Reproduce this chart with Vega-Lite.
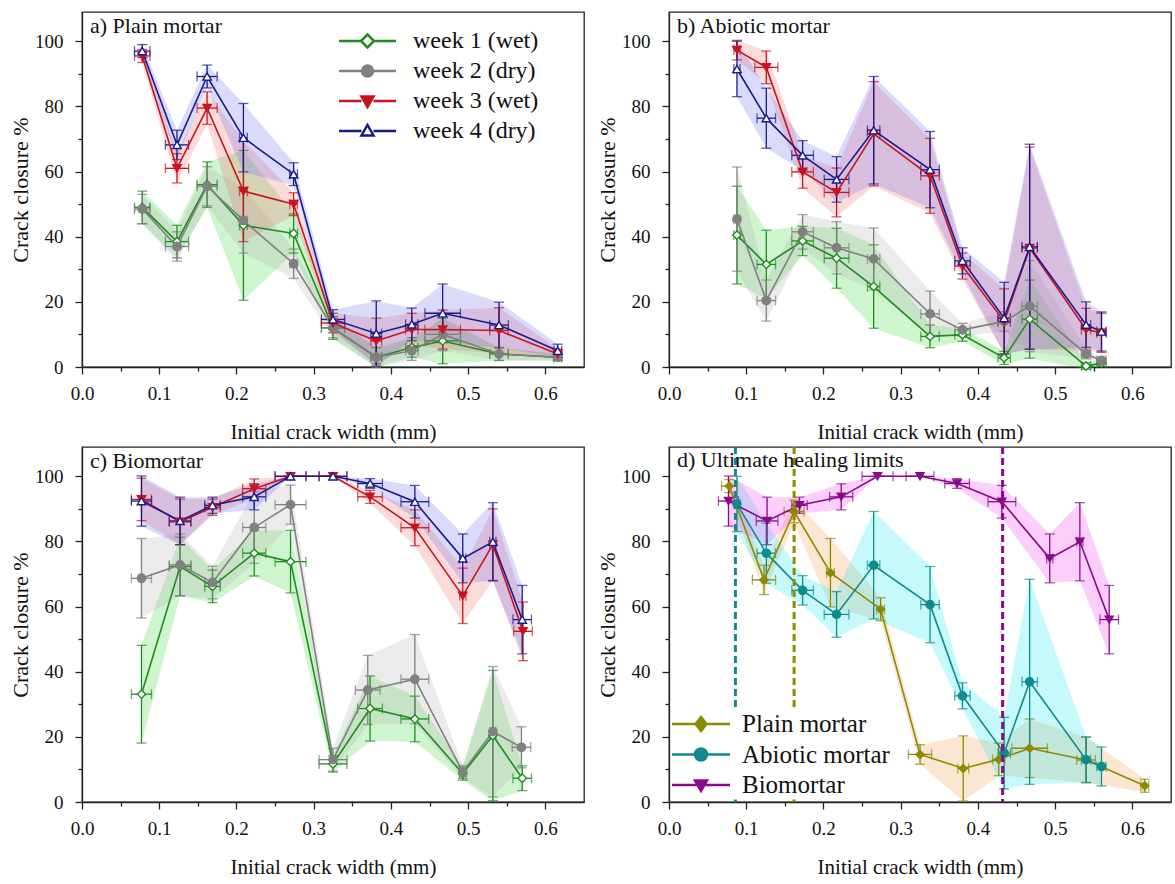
{
"$schema":"https://vega.github.io/schema/vega-lite/v6.json",
"padding":{"left":8,"top":11,"right":0,"bottom":0},
"background":"white",
"config":{
 "font":"Liberation Serif",
 "view":{"stroke":"#222","strokeWidth":1.3},
 "axis":{"labelFont":"Liberation Serif","titleFont":"Liberation Serif","labelFontSize":19,"titleFontSize":21,"titleFontWeight":"normal","labelColor":"#111","titleColor":"#111","domainColor":"#222","tickColor":"#222","domainWidth":1.3,"tickWidth":1.3,"grid":false},
 "axisY":{"titleFontSize":22},
 "title":{"font":"Liberation Serif","fontSize":22,"fontWeight":"normal","color":"#111","anchor":"start","frame":"group","offset":-26,"dx":8,"baseline":"alphabetic"},
 "legend":{"labelFont":"Liberation Serif","labelFontSize":24,"labelColor":"#111","padding":0,"labelLimit":400}
},
"datasets":{
"limits":[
 {"s":"Abiotic mortar","x":0.086},
 {"s":"Plain mortar","x":0.162},
 {"s":"Biomortar","x":0.432}
],
"main":[
{"p":"a","s":"week 1 (wet)","x":0.078,"xe":0.010,"y":49,"ye":5},
{"p":"a","s":"week 1 (wet)","x":0.123,"xe":0.015,"y":38.5,"ye":5},
{"p":"a","s":"week 1 (wet)","x":0.162,"xe":0.013,"y":56,"ye":7},
{"p":"a","s":"week 1 (wet)","x":0.209,"xe":0.005,"y":43.5,"ye":23},
{"p":"a","s":"week 1 (wet)","x":0.274,"xe":0.005,"y":41,"ye":6},
{"p":"a","s":"week 1 (wet)","x":0.325,"xe":0.015,"y":12,"ye":3.5},
{"p":"a","s":"week 1 (wet)","x":0.381,"xe":0.007,"y":3,"ye":3},
{"p":"a","s":"week 1 (wet)","x":0.427,"xe":0.008,"y":6,"ye":3},
{"p":"a","s":"week 1 (wet)","x":0.467,"xe":0.023,"y":8,"ye":7},
{"p":"a","s":"week 1 (wet)","x":0.540,"xe":0.012,"y":4,"ye":2},
{"p":"a","s":"week 1 (wet)","x":0.616,"xe":0.005,"y":3,"ye":1},
{"p":"a","s":"week 2 (dry)","x":0.078,"xe":0.010,"y":48.5,"ye":4.5},
{"p":"a","s":"week 2 (dry)","x":0.123,"xe":0.015,"y":37,"ye":4.5},
{"p":"a","s":"week 2 (dry)","x":0.162,"xe":0.013,"y":55.5,"ye":6},
{"p":"a","s":"week 2 (dry)","x":0.209,"xe":0.005,"y":45,"ye":10},
{"p":"a","s":"week 2 (dry)","x":0.274,"xe":0.005,"y":31.7,"ye":4.5},
{"p":"a","s":"week 2 (dry)","x":0.325,"xe":0.015,"y":12,"ye":3},
{"p":"a","s":"week 2 (dry)","x":0.381,"xe":0.007,"y":3,"ye":3},
{"p":"a","s":"week 2 (dry)","x":0.427,"xe":0.008,"y":5,"ye":3},
{"p":"a","s":"week 2 (dry)","x":0.467,"xe":0.023,"y":10,"ye":5},
{"p":"a","s":"week 2 (dry)","x":0.540,"xe":0.012,"y":4,"ye":2},
{"p":"a","s":"week 2 (dry)","x":0.616,"xe":0.005,"y":3,"ye":1},
{"p":"a","s":"week 3 (wet)","x":0.078,"xe":0.010,"y":95.5,"ye":2},
{"p":"a","s":"week 3 (wet)","x":0.123,"xe":0.015,"y":61,"ye":4.5},
{"p":"a","s":"week 3 (wet)","x":0.162,"xe":0.013,"y":79.5,"ye":5},
{"p":"a","s":"week 3 (wet)","x":0.209,"xe":0.005,"y":54,"ye":15.5},
{"p":"a","s":"week 3 (wet)","x":0.274,"xe":0.005,"y":50,"ye":3.5},
{"p":"a","s":"week 3 (wet)","x":0.325,"xe":0.015,"y":13.5,"ye":3},
{"p":"a","s":"week 3 (wet)","x":0.381,"xe":0.007,"y":8,"ye":7},
{"p":"a","s":"week 3 (wet)","x":0.427,"xe":0.008,"y":11.5,"ye":5},
{"p":"a","s":"week 3 (wet)","x":0.467,"xe":0.023,"y":11.5,"ye":6},
{"p":"a","s":"week 3 (wet)","x":0.540,"xe":0.012,"y":11.2,"ye":7},
{"p":"a","s":"week 3 (wet)","x":0.616,"xe":0.005,"y":4,"ye":1.5},
{"p":"a","s":"week 4 (dry)","x":0.078,"xe":0.010,"y":97,"ye":2},
{"p":"a","s":"week 4 (dry)","x":0.123,"xe":0.015,"y":68.2,"ye":4.5},
{"p":"a","s":"week 4 (dry)","x":0.162,"xe":0.013,"y":89.2,"ye":3.5},
{"p":"a","s":"week 4 (dry)","x":0.209,"xe":0.005,"y":70.4,"ye":10.5},
{"p":"a","s":"week 4 (dry)","x":0.274,"xe":0.005,"y":59.2,"ye":3.5},
{"p":"a","s":"week 4 (dry)","x":0.325,"xe":0.015,"y":14.6,"ye":3},
{"p":"a","s":"week 4 (dry)","x":0.381,"xe":0.007,"y":10.3,"ye":10},
{"p":"a","s":"week 4 (dry)","x":0.427,"xe":0.008,"y":13.1,"ye":5},
{"p":"a","s":"week 4 (dry)","x":0.467,"xe":0.023,"y":16.5,"ye":9},
{"p":"a","s":"week 4 (dry)","x":0.540,"xe":0.012,"y":12.9,"ye":7},
{"p":"a","s":"week 4 (dry)","x":0.616,"xe":0.005,"y":5,"ye":2},
{"p":"b","s":"week 1 (wet)","x":0.088,"xe":0.004,"y":40.5,"ye":15},
{"p":"b","s":"week 1 (wet)","x":0.126,"xe":0.012,"y":31.5,"ye":10.5},
{"p":"b","s":"week 1 (wet)","x":0.173,"xe":0.014,"y":38.7,"ye":4.5},
{"p":"b","s":"week 1 (wet)","x":0.217,"xe":0.016,"y":33.4,"ye":9.2},
{"p":"b","s":"week 1 (wet)","x":0.265,"xe":0.008,"y":24.7,"ye":12.8},
{"p":"b","s":"week 1 (wet)","x":0.338,"xe":0.012,"y":9.4,"ye":3.5},
{"p":"b","s":"week 1 (wet)","x":0.380,"xe":0.010,"y":9.9,"ye":2},
{"p":"b","s":"week 1 (wet)","x":0.434,"xe":0.008,"y":2.8,"ye":2},
{"p":"b","s":"week 1 (wet)","x":0.467,"xe":0.010,"y":14.7,"ye":12},
{"p":"b","s":"week 1 (wet)","x":0.540,"xe":0.006,"y":0.3,"ye":1},
{"p":"b","s":"week 1 (wet)","x":0.560,"xe":0.006,"y":1.2,"ye":1},
{"p":"b","s":"week 2 (dry)","x":0.088,"xe":0.004,"y":45.4,"ye":16},
{"p":"b","s":"week 2 (dry)","x":0.126,"xe":0.012,"y":20.4,"ye":6.3},
{"p":"b","s":"week 2 (dry)","x":0.173,"xe":0.014,"y":41.5,"ye":5.3},
{"p":"b","s":"week 2 (dry)","x":0.217,"xe":0.016,"y":36.6,"ye":8},
{"p":"b","s":"week 2 (dry)","x":0.265,"xe":0.008,"y":33.2,"ye":9.5},
{"p":"b","s":"week 2 (dry)","x":0.338,"xe":0.012,"y":16.3,"ye":7},
{"p":"b","s":"week 2 (dry)","x":0.380,"xe":0.010,"y":11.4,"ye":2},
{"p":"b","s":"week 2 (dry)","x":0.434,"xe":0.008,"y":14,"ye":3},
{"p":"b","s":"week 2 (dry)","x":0.467,"xe":0.010,"y":18.7,"ye":14},
{"p":"b","s":"week 2 (dry)","x":0.540,"xe":0.006,"y":4,"ye":1.5},
{"p":"b","s":"week 2 (dry)","x":0.560,"xe":0.006,"y":2,"ye":1},
{"p":"b","s":"week 3 (wet)","x":0.088,"xe":0.004,"y":97.3,"ye":3},
{"p":"b","s":"week 3 (wet)","x":0.126,"xe":0.015,"y":92,"ye":5},
{"p":"b","s":"week 3 (wet)","x":0.173,"xe":0.014,"y":59.9,"ye":5},
{"p":"b","s":"week 3 (wet)","x":0.217,"xe":0.016,"y":53.6,"ye":7.5},
{"p":"b","s":"week 3 (wet)","x":0.265,"xe":0.008,"y":71.6,"ye":16},
{"p":"b","s":"week 3 (wet)","x":0.338,"xe":0.012,"y":58.7,"ye":11.5},
{"p":"b","s":"week 3 (wet)","x":0.380,"xe":0.010,"y":31,"ye":4},
{"p":"b","s":"week 3 (wet)","x":0.434,"xe":0.008,"y":14,"ye":10},
{"p":"b","s":"week 3 (wet)","x":0.467,"xe":0.010,"y":36.5,"ye":31},
{"p":"b","s":"week 3 (wet)","x":0.540,"xe":0.006,"y":11.5,"ye":6.5},
{"p":"b","s":"week 3 (wet)","x":0.560,"xe":0.006,"y":10.5,"ye":6},
{"p":"b","s":"week 4 (dry)","x":0.088,"xe":0.004,"y":91.5,"ye":8.5},
{"p":"b","s":"week 4 (dry)","x":0.126,"xe":0.012,"y":76.4,"ye":9.2},
{"p":"b","s":"week 4 (dry)","x":0.173,"xe":0.014,"y":65,"ye":4.5},
{"p":"b","s":"week 4 (dry)","x":0.217,"xe":0.016,"y":57.6,"ye":7},
{"p":"b","s":"week 4 (dry)","x":0.265,"xe":0.008,"y":72.7,"ye":16.5},
{"p":"b","s":"week 4 (dry)","x":0.338,"xe":0.012,"y":60.6,"ye":11.7},
{"p":"b","s":"week 4 (dry)","x":0.380,"xe":0.010,"y":32.6,"ye":4},
{"p":"b","s":"week 4 (dry)","x":0.434,"xe":0.008,"y":15,"ye":11},
{"p":"b","s":"week 4 (dry)","x":0.467,"xe":0.010,"y":36.9,"ye":31.5},
{"p":"b","s":"week 4 (dry)","x":0.540,"xe":0.006,"y":13,"ye":7},
{"p":"b","s":"week 4 (dry)","x":0.560,"xe":0.006,"y":10.9,"ye":6},
{"p":"c","s":"week 1 (wet)","x":0.077,"xe":0.013,"y":33.1,"ye":15},
{"p":"c","s":"week 1 (wet)","x":0.127,"xe":0.014,"y":72.3,"ye":9},
{"p":"c","s":"week 1 (wet)","x":0.169,"xe":0.010,"y":66.2,"ye":5},
{"p":"c","s":"week 1 (wet)","x":0.223,"xe":0.015,"y":76.4,"ye":7},
{"p":"c","s":"week 1 (wet)","x":0.270,"xe":0.020,"y":73.8,"ye":9.6},
{"p":"c","s":"week 1 (wet)","x":0.325,"xe":0.018,"y":11.7,"ye":2.5},
{"p":"c","s":"week 1 (wet)","x":0.373,"xe":0.016,"y":28.7,"ye":10},
{"p":"c","s":"week 1 (wet)","x":0.431,"xe":0.018,"y":25.5,"ye":7},
{"p":"c","s":"week 1 (wet)","x":0.493,"xe":0.004,"y":8.7,"ye":2},
{"p":"c","s":"week 1 (wet)","x":0.532,"xe":0.004,"y":20.4,"ye":20},
{"p":"c","s":"week 1 (wet)","x":0.570,"xe":0.012,"y":7.3,"ye":3.8},
{"p":"c","s":"week 2 (dry)","x":0.077,"xe":0.013,"y":68.7,"ye":12.2},
{"p":"c","s":"week 2 (dry)","x":0.127,"xe":0.014,"y":72.8,"ye":9.5},
{"p":"c","s":"week 2 (dry)","x":0.169,"xe":0.010,"y":67.4,"ye":5},
{"p":"c","s":"week 2 (dry)","x":0.223,"xe":0.015,"y":84.3,"ye":11},
{"p":"c","s":"week 2 (dry)","x":0.270,"xe":0.020,"y":91.3,"ye":6},
{"p":"c","s":"week 2 (dry)","x":0.325,"xe":0.018,"y":13,"ye":3.5},
{"p":"c","s":"week 2 (dry)","x":0.370,"xe":0.016,"y":34.4,"ye":10.6},
{"p":"c","s":"week 2 (dry)","x":0.431,"xe":0.018,"y":37.7,"ye":13.7},
{"p":"c","s":"week 2 (dry)","x":0.493,"xe":0.004,"y":9.2,"ye":2},
{"p":"c","s":"week 2 (dry)","x":0.532,"xe":0.004,"y":21.6,"ye":20},
{"p":"c","s":"week 2 (dry)","x":0.569,"xe":0.012,"y":16.8,"ye":6.3},
{"p":"c","s":"week 3 (wet)","x":0.077,"xe":0.013,"y":92.9,"ye":6.5},
{"p":"c","s":"week 3 (wet)","x":0.127,"xe":0.014,"y":86,"ye":7},
{"p":"c","s":"week 3 (wet)","x":0.169,"xe":0.010,"y":90.5,"ye":2.5},
{"p":"c","s":"week 3 (wet)","x":0.223,"xe":0.015,"y":96.2,"ye":3},
{"p":"c","s":"week 3 (wet)","x":0.270,"xe":0.020,"y":100,"ye":0},
{"p":"c","s":"week 3 (wet)","x":0.325,"xe":0.018,"y":100,"ye":0},
{"p":"c","s":"week 3 (wet)","x":0.373,"xe":0.016,"y":93.7,"ye":2},
{"p":"c","s":"week 3 (wet)","x":0.431,"xe":0.018,"y":84.2,"ye":5.5},
{"p":"c","s":"week 3 (wet)","x":0.493,"xe":0.004,"y":63.3,"ye":8.5},
{"p":"c","s":"week 3 (wet)","x":0.532,"xe":0.004,"y":79,"ye":11},
{"p":"c","s":"week 3 (wet)","x":0.571,"xe":0.012,"y":52.4,"ye":9},
{"p":"c","s":"week 4 (dry)","x":0.077,"xe":0.013,"y":92.4,"ye":7.7},
{"p":"c","s":"week 4 (dry)","x":0.127,"xe":0.014,"y":86.3,"ye":7.3},
{"p":"c","s":"week 4 (dry)","x":0.169,"xe":0.010,"y":91.1,"ye":2.5},
{"p":"c","s":"week 4 (dry)","x":0.223,"xe":0.015,"y":93.7,"ye":4},
{"p":"c","s":"week 4 (dry)","x":0.270,"xe":0.020,"y":100,"ye":0},
{"p":"c","s":"week 4 (dry)","x":0.325,"xe":0.018,"y":100,"ye":0},
{"p":"c","s":"week 4 (dry)","x":0.373,"xe":0.016,"y":97.8,"ye":1.5},
{"p":"c","s":"week 4 (dry)","x":0.431,"xe":0.018,"y":92.2,"ye":5},
{"p":"c","s":"week 4 (dry)","x":0.493,"xe":0.004,"y":74.8,"ye":7.5},
{"p":"c","s":"week 4 (dry)","x":0.532,"xe":0.004,"y":79.9,"ye":12},
{"p":"c","s":"week 4 (dry)","x":0.570,"xe":0.012,"y":56,"ye":10.5},
{"p":"d","s":"Plain mortar","x":0.078,"xe":0.010,"y":97,"ye":2},
{"p":"d","s":"Plain mortar","x":0.123,"xe":0.015,"y":68.2,"ye":4.5},
{"p":"d","s":"Plain mortar","x":0.162,"xe":0.013,"y":89.2,"ye":3.5},
{"p":"d","s":"Plain mortar","x":0.209,"xe":0.005,"y":70.4,"ye":10.5},
{"p":"d","s":"Plain mortar","x":0.274,"xe":0.005,"y":59.2,"ye":3.5},
{"p":"d","s":"Plain mortar","x":0.325,"xe":0.015,"y":14.6,"ye":3},
{"p":"d","s":"Plain mortar","x":0.381,"xe":0.007,"y":10.3,"ye":10},
{"p":"d","s":"Plain mortar","x":0.427,"xe":0.008,"y":13.1,"ye":5},
{"p":"d","s":"Plain mortar","x":0.467,"xe":0.023,"y":16.5,"ye":9},
{"p":"d","s":"Plain mortar","x":0.540,"xe":0.012,"y":12.9,"ye":7},
{"p":"d","s":"Plain mortar","x":0.616,"xe":0.005,"y":5,"ye":2},
{"p":"d","s":"Abiotic mortar","x":0.088,"xe":0.004,"y":91.5,"ye":8.5},
{"p":"d","s":"Abiotic mortar","x":0.126,"xe":0.012,"y":76.4,"ye":9.2},
{"p":"d","s":"Abiotic mortar","x":0.173,"xe":0.014,"y":65,"ye":4.5},
{"p":"d","s":"Abiotic mortar","x":0.217,"xe":0.016,"y":57.6,"ye":7},
{"p":"d","s":"Abiotic mortar","x":0.265,"xe":0.008,"y":72.7,"ye":16.5},
{"p":"d","s":"Abiotic mortar","x":0.338,"xe":0.012,"y":60.6,"ye":11.7},
{"p":"d","s":"Abiotic mortar","x":0.380,"xe":0.010,"y":32.6,"ye":4},
{"p":"d","s":"Abiotic mortar","x":0.434,"xe":0.008,"y":15,"ye":11},
{"p":"d","s":"Abiotic mortar","x":0.467,"xe":0.010,"y":36.9,"ye":31.5},
{"p":"d","s":"Abiotic mortar","x":0.540,"xe":0.006,"y":13,"ye":7},
{"p":"d","s":"Abiotic mortar","x":0.560,"xe":0.006,"y":10.9,"ye":6},
{"p":"d","s":"Biomortar","x":0.077,"xe":0.013,"y":92.4,"ye":7.7},
{"p":"d","s":"Biomortar","x":0.127,"xe":0.014,"y":86.3,"ye":7.3},
{"p":"d","s":"Biomortar","x":0.169,"xe":0.010,"y":91.1,"ye":2.5},
{"p":"d","s":"Biomortar","x":0.223,"xe":0.015,"y":93.7,"ye":4},
{"p":"d","s":"Biomortar","x":0.270,"xe":0.020,"y":100,"ye":0},
{"p":"d","s":"Biomortar","x":0.325,"xe":0.018,"y":100,"ye":0},
{"p":"d","s":"Biomortar","x":0.373,"xe":0.016,"y":97.8,"ye":1.5},
{"p":"d","s":"Biomortar","x":0.431,"xe":0.018,"y":92.2,"ye":5},
{"p":"d","s":"Biomortar","x":0.493,"xe":0.004,"y":74.8,"ye":7.5},
{"p":"d","s":"Biomortar","x":0.532,"xe":0.004,"y":79.9,"ye":12},
{"p":"d","s":"Biomortar","x":0.570,"xe":0.012,"y":56,"ye":10.5}
]},
"resolve":{"scale":{"color":"independent","shape":"independent","fill":"independent","stroke":"independent"},"legend":{"color":"independent","shape":"independent","fill":"independent","stroke":"independent"}},
"spacing":1,
"vconcat":[
{"hconcat":[
 {"width":502,"height":355,"title":{"text":"a) Plain mortar"},
  "data":{"name":"main"},"transform":[{"filter":"datum.p === 'a'"}],
  "encoding":{
   "x":{"field":"x","type":"quantitative","scale":{"domain":[0,0.65],"nice":false,"zero":false},"axis":{"title":"Initial crack width (mm)","values":[0,0.05,0.1,0.15,0.2,0.25,0.3,0.35,0.4,0.45,0.5,0.55,0.6],"labelExpr":"round(datum.value*100) % 10 == 0 ? format(datum.value, '.1f') : ''","tickSize":{"condition":{"test":"round(datum.value*100) % 10 != 0","value":4},"value":7},"labelPadding":10,"titlePadding":18,"labelOverlap":false,"labelFlush":false}},
   "y":{"field":"y","type":"quantitative","scale":{"domain":[0,109],"nice":false},"axis":{"title":"Crack closure %","values":[0,10,20,30,40,50,60,70,80,90,100],"labelExpr":"datum.value % 20 == 0 ? datum.label : ''","tickSize":{"condition":{"test":"datum.value % 20 != 0","value":4},"value":7},"labelPadding":12,"titlePadding":2,"labelOverlap":false,"labelFlush":false}}
  },
  "layer":[
   {"mark":{"type":"errorband","opacity":0.25},"encoding":{"yError":{"field":"ye"},"color":{"field":"s","type":"nominal","scale":{"domain":["week 1 (wet)","week 2 (dry)","week 3 (wet)","week 4 (dry)"],"range":["#3ad83a","#b0b0b0","#f06a6a","#6a6af0"]},"legend":null}}},
   {"mark":{"type":"errorbar","ticks":{"size":10},"thickness":1.3},"encoding":{"yError":{"field":"ye"},"color":{"field":"s","type":"nominal","scale":{"domain":["week 1 (wet)","week 2 (dry)","week 3 (wet)","week 4 (dry)"],"range":["#1f8c1f","#808080","#c8141e","#1a1a8c"]},"legend":null}}},
   {"mark":{"type":"errorbar","ticks":{"size":10},"thickness":1.3},"encoding":{"xError":{"field":"xe"},"color":{"field":"s","type":"nominal","scale":{"domain":["week 1 (wet)","week 2 (dry)","week 3 (wet)","week 4 (dry)"],"range":["#1f8c1f","#808080","#c8141e","#1a1a8c"]},"legend":null}}},
   {"mark":{"type":"line","strokeWidth":1.6},"encoding":{"color":{"field":"s","type":"nominal","scale":{"domain":["week 1 (wet)","week 2 (dry)","week 3 (wet)","week 4 (dry)"],"range":["#1f8c1f","#808080","#c8141e","#1a1a8c"]},"legend":null}}},
   {"mark":{"type":"point","filled":true,"size":70,"strokeWidth":1.4,"opacity":1},"encoding":{
     "shape":{"field":"s","type":"nominal","scale":{"domain":["week 1 (wet)","week 2 (dry)","week 3 (wet)","week 4 (dry)"],"range":["diamond","circle","triangle-down","triangle-up"]},"legend":null},
     "stroke":{"field":"s","type":"nominal","scale":{"domain":["week 1 (wet)","week 2 (dry)","week 3 (wet)","week 4 (dry)"],"range":["#1f8c1f","#808080","#c8141e","#1a1a8c"]},"legend":null},
     "fill":{"field":"s","type":"nominal","scale":{"domain":["week 1 (wet)","week 2 (dry)","week 3 (wet)","week 4 (dry)"],"range":["white","#808080","#c8141e","white"]},"legend":null}}},
   {"transform":[{"filter":"false"}],"mark":{"type":"point","filled":true,"size":100,"strokeWidth":2.5,"opacity":1},"encoding":{
     "shape":{"field":"s","type":"nominal","scale":{"domain":["week 1 (wet)","week 2 (dry)","week 3 (wet)","week 4 (dry)"],"range":["M-5.7,0H-1.3M1.3,0H5.7M0,-1.3L1.3,0L0,1.3L-1.3,0Z","M-5.7,0H-1.1M1.1,0H5.7M-1.1,0A1.1,1.1,0,1,0,1.1,0A1.1,1.1,0,1,0,-1.1,0Z","M-5.7,0H-1.2M1.2,0H5.7M-1.2,-0.9L1.2,-0.9L0,1.2Z","M-5.7,0H-1.2M1.2,0H5.7M-1.2,0.9L1.2,0.9L0,-1.2Z"]},"legend":{"orient":"none","legendX":273.5,"legendY":17,"title":null,"labelOffset":33.5,"rowPadding":6,"symbolSize":100,"symbolStrokeWidth":2.5,"labelFontSize":24}},
     "stroke":{"field":"s","type":"nominal","scale":{"domain":["week 1 (wet)","week 2 (dry)","week 3 (wet)","week 4 (dry)"],"range":["#1f8c1f","#808080","#c8141e","#1a1a8c"]},"legend":{"orient":"none","legendX":273.5,"legendY":17,"title":null,"labelOffset":33.5,"rowPadding":6,"symbolSize":100,"symbolStrokeWidth":2.5,"labelFontSize":24}},
     "fill":{"field":"s","type":"nominal","scale":{"domain":["week 1 (wet)","week 2 (dry)","week 3 (wet)","week 4 (dry)"],"range":["white","#808080","#c8141e","white"]},"legend":{"orient":"none","legendX":273.5,"legendY":17,"title":null,"labelOffset":33.5,"rowPadding":6,"symbolSize":100,"symbolStrokeWidth":2.5,"labelFontSize":24}}}}
  ],
  "resolve":{"scale":{"color":"independent","shape":"independent","fill":"independent","stroke":"independent"}}
 },
 {"width":502,"height":355,"title":{"text":"b) Abiotic mortar"},
  "data":{"name":"main"},"transform":[{"filter":"datum.p === 'b'"}],
  "encoding":{
   "x":{"field":"x","type":"quantitative","scale":{"domain":[0,0.65],"nice":false,"zero":false},"axis":{"title":"Initial crack width (mm)","values":[0,0.05,0.1,0.15,0.2,0.25,0.3,0.35,0.4,0.45,0.5,0.55,0.6],"labelExpr":"round(datum.value*100) % 10 == 0 ? format(datum.value, '.1f') : ''","tickSize":{"condition":{"test":"round(datum.value*100) % 10 != 0","value":4},"value":7},"labelPadding":10,"titlePadding":18,"labelOverlap":false,"labelFlush":false}},
   "y":{"field":"y","type":"quantitative","scale":{"domain":[0,109],"nice":false},"axis":{"title":"Crack closure %","values":[0,10,20,30,40,50,60,70,80,90,100],"labelExpr":"datum.value % 20 == 0 ? datum.label : ''","tickSize":{"condition":{"test":"datum.value % 20 != 0","value":4},"value":7},"labelPadding":12,"titlePadding":2,"labelOverlap":false,"labelFlush":false}}
  },
  "layer":[
   {"mark":{"type":"errorband","opacity":0.25},"encoding":{"yError":{"field":"ye"},"color":{"field":"s","type":"nominal","scale":{"domain":["week 1 (wet)","week 2 (dry)","week 3 (wet)","week 4 (dry)"],"range":["#3ad83a","#b0b0b0","#f06a6a","#6a6af0"]},"legend":null}}},
   {"mark":{"type":"errorbar","ticks":{"size":10},"thickness":1.3},"encoding":{"yError":{"field":"ye"},"color":{"field":"s","type":"nominal","scale":{"domain":["week 1 (wet)","week 2 (dry)","week 3 (wet)","week 4 (dry)"],"range":["#1f8c1f","#808080","#c8141e","#1a1a8c"]},"legend":null}}},
   {"mark":{"type":"errorbar","ticks":{"size":10},"thickness":1.3},"encoding":{"xError":{"field":"xe"},"color":{"field":"s","type":"nominal","scale":{"domain":["week 1 (wet)","week 2 (dry)","week 3 (wet)","week 4 (dry)"],"range":["#1f8c1f","#808080","#c8141e","#1a1a8c"]},"legend":null}}},
   {"mark":{"type":"line","strokeWidth":1.6},"encoding":{"color":{"field":"s","type":"nominal","scale":{"domain":["week 1 (wet)","week 2 (dry)","week 3 (wet)","week 4 (dry)"],"range":["#1f8c1f","#808080","#c8141e","#1a1a8c"]},"legend":null}}},
   {"mark":{"type":"point","filled":true,"size":70,"strokeWidth":1.4,"opacity":1},"encoding":{
     "shape":{"field":"s","type":"nominal","scale":{"domain":["week 1 (wet)","week 2 (dry)","week 3 (wet)","week 4 (dry)"],"range":["diamond","circle","triangle-down","triangle-up"]},"legend":null},
     "stroke":{"field":"s","type":"nominal","scale":{"domain":["week 1 (wet)","week 2 (dry)","week 3 (wet)","week 4 (dry)"],"range":["#1f8c1f","#808080","#c8141e","#1a1a8c"]},"legend":null},
     "fill":{"field":"s","type":"nominal","scale":{"domain":["week 1 (wet)","week 2 (dry)","week 3 (wet)","week 4 (dry)"],"range":["white","#808080","#c8141e","white"]},"legend":null}}}
  ],
  "resolve":{"scale":{"color":"independent","shape":"independent","fill":"independent","stroke":"independent"}}
 }
],"spacing":10,
"resolve":{"scale":{"color":"independent","shape":"independent","fill":"independent","stroke":"independent"},"legend":{"color":"independent","shape":"independent","fill":"independent","stroke":"independent"}}},
{"hconcat":[
 {"width":502,"height":355,"title":{"text":"c) Biomortar"},
  "data":{"name":"main"},"transform":[{"filter":"datum.p === 'c'"}],
  "encoding":{
   "x":{"field":"x","type":"quantitative","scale":{"domain":[0,0.65],"nice":false,"zero":false},"axis":{"title":"Initial crack width (mm)","values":[0,0.05,0.1,0.15,0.2,0.25,0.3,0.35,0.4,0.45,0.5,0.55,0.6],"labelExpr":"round(datum.value*100) % 10 == 0 ? format(datum.value, '.1f') : ''","tickSize":{"condition":{"test":"round(datum.value*100) % 10 != 0","value":4},"value":7},"labelPadding":10,"titlePadding":18,"labelOverlap":false,"labelFlush":false}},
   "y":{"field":"y","type":"quantitative","scale":{"domain":[0,109],"nice":false},"axis":{"title":"Crack closure %","values":[0,10,20,30,40,50,60,70,80,90,100],"labelExpr":"datum.value % 20 == 0 ? datum.label : ''","tickSize":{"condition":{"test":"datum.value % 20 != 0","value":4},"value":7},"labelPadding":12,"titlePadding":2,"labelOverlap":false,"labelFlush":false}}
  },
  "layer":[
   {"mark":{"type":"errorband","opacity":0.25},"encoding":{"yError":{"field":"ye"},"color":{"field":"s","type":"nominal","scale":{"domain":["week 1 (wet)","week 2 (dry)","week 3 (wet)","week 4 (dry)"],"range":["#3ad83a","#b0b0b0","#f06a6a","#6a6af0"]},"legend":null}}},
   {"mark":{"type":"errorbar","ticks":{"size":10},"thickness":1.3},"encoding":{"yError":{"field":"ye"},"color":{"field":"s","type":"nominal","scale":{"domain":["week 1 (wet)","week 2 (dry)","week 3 (wet)","week 4 (dry)"],"range":["#1f8c1f","#808080","#c8141e","#1a1a8c"]},"legend":null}}},
   {"mark":{"type":"errorbar","ticks":{"size":10},"thickness":1.3},"encoding":{"xError":{"field":"xe"},"color":{"field":"s","type":"nominal","scale":{"domain":["week 1 (wet)","week 2 (dry)","week 3 (wet)","week 4 (dry)"],"range":["#1f8c1f","#808080","#c8141e","#1a1a8c"]},"legend":null}}},
   {"mark":{"type":"line","strokeWidth":1.6},"encoding":{"color":{"field":"s","type":"nominal","scale":{"domain":["week 1 (wet)","week 2 (dry)","week 3 (wet)","week 4 (dry)"],"range":["#1f8c1f","#808080","#c8141e","#1a1a8c"]},"legend":null}}},
   {"mark":{"type":"point","filled":true,"size":70,"strokeWidth":1.4,"opacity":1},"encoding":{
     "shape":{"field":"s","type":"nominal","scale":{"domain":["week 1 (wet)","week 2 (dry)","week 3 (wet)","week 4 (dry)"],"range":["diamond","circle","triangle-down","triangle-up"]},"legend":null},
     "stroke":{"field":"s","type":"nominal","scale":{"domain":["week 1 (wet)","week 2 (dry)","week 3 (wet)","week 4 (dry)"],"range":["#1f8c1f","#808080","#c8141e","#1a1a8c"]},"legend":null},
     "fill":{"field":"s","type":"nominal","scale":{"domain":["week 1 (wet)","week 2 (dry)","week 3 (wet)","week 4 (dry)"],"range":["white","#808080","#c8141e","white"]},"legend":null}}}
  ],
  "resolve":{"scale":{"color":"independent","shape":"independent","fill":"independent","stroke":"independent"}}
 },
 {"width":502,"height":355,"title":{"text":"d) Ultimate healing limits"},
  "layer":[
   {"data":{"name":"main"},"transform":[{"filter":"datum.p === 'd'"}],
    "encoding":{
     "x":{"field":"x","type":"quantitative","scale":{"domain":[0,0.65],"nice":false,"zero":false},"axis":{"title":"Initial crack width (mm)","values":[0,0.05,0.1,0.15,0.2,0.25,0.3,0.35,0.4,0.45,0.5,0.55,0.6],"labelExpr":"round(datum.value*100) % 10 == 0 ? format(datum.value, '.1f') : ''","tickSize":{"condition":{"test":"round(datum.value*100) % 10 != 0","value":4},"value":7},"labelPadding":10,"titlePadding":18,"labelOverlap":false,"labelFlush":false}},
     "y":{"field":"y","type":"quantitative","scale":{"domain":[0,109],"nice":false},"axis":{"title":"Crack closure %","values":[0,10,20,30,40,50,60,70,80,90,100],"labelExpr":"datum.value % 20 == 0 ? datum.label : ''","tickSize":{"condition":{"test":"datum.value % 20 != 0","value":4},"value":7},"labelPadding":12,"titlePadding":2,"labelOverlap":false,"labelFlush":false}}
    },
    "layer":[
     {"mark":{"type":"errorband","opacity":0.28},"encoding":{"yError":{"field":"ye"},"color":{"field":"s","type":"nominal","scale":{"domain":["Plain mortar","Abiotic mortar","Biomortar"],"range":["#f5a05a","#2ee8f0","#f050f0"]},"legend":null}}},
     {"mark":{"type":"errorbar","ticks":{"size":10},"thickness":1.3},"encoding":{"yError":{"field":"ye"},"color":{"field":"s","type":"nominal","scale":{"domain":["Plain mortar","Abiotic mortar","Biomortar"],"range":["#8c8a00","#0f8b8d","#8b0a8b"]},"legend":null}}},
     {"mark":{"type":"errorbar","ticks":{"size":10},"thickness":1.3},"encoding":{"xError":{"field":"xe"},"color":{"field":"s","type":"nominal","scale":{"domain":["Plain mortar","Abiotic mortar","Biomortar"],"range":["#8c8a00","#0f8b8d","#8b0a8b"]},"legend":null}}},
     {"mark":{"type":"line","strokeWidth":1.6},"encoding":{"color":{"field":"s","type":"nominal","scale":{"domain":["Plain mortar","Abiotic mortar","Biomortar"],"range":["#8c8a00","#0f8b8d","#8b0a8b"]},"legend":null}}},
     {"mark":{"type":"point","filled":true,"size":70,"strokeWidth":1.2,"opacity":1},"encoding":{
       "shape":{"field":"s","type":"nominal","scale":{"domain":["Plain mortar","Abiotic mortar","Biomortar"],"range":["diamond","circle","triangle-down"]},"legend":null},
       "stroke":{"field":"s","type":"nominal","scale":{"domain":["Plain mortar","Abiotic mortar","Biomortar"],"range":["#8c8a00","#0f8b8d","#8b0a8b"]},"legend":null},
       "fill":{"field":"s","type":"nominal","scale":{"domain":["Plain mortar","Abiotic mortar","Biomortar"],"range":["#8c8a00","#0f8b8d","#8b0a8b"]},"legend":null}}},
     {"transform":[{"filter":"false"}],"mark":{"type":"point","filled":true,"size":100,"strokeWidth":2.5,"opacity":1},"encoding":{
       "shape":{"field":"s","type":"nominal","scale":{"domain":["Plain mortar","Abiotic mortar","Biomortar"],"range":["M-5.8,0H5.8M0,-1.4L1.1,0L0,1.4L-1.1,0Z","M-5.8,0H5.8M-1.2,0A1.2,1.2,0,1,0,1.2,0A1.2,1.2,0,1,0,-1.2,0Z","M-5.8,0H5.8M-1.2,-0.9L1.2,-0.9L0,1.2Z"]},"legend":{"orient":"none","legendX":18.5,"legendY":263.5,"title":null,"labelOffset":28.5,"rowPadding":4.5,"symbolSize":100,"symbolStrokeWidth":2.5,"labelFontSize":25,"fillColor":"white","padding":1}},
       "stroke":{"field":"s","type":"nominal","scale":{"domain":["Plain mortar","Abiotic mortar","Biomortar"],"range":["#8c8a00","#0f8b8d","#8b0a8b"]},"legend":{"orient":"none","legendX":18.5,"legendY":263.5,"title":null,"labelOffset":28.5,"rowPadding":4.5,"symbolSize":100,"symbolStrokeWidth":2.5,"labelFontSize":25,"fillColor":"white","padding":1}},
       "fill":{"field":"s","type":"nominal","scale":{"domain":["Plain mortar","Abiotic mortar","Biomortar"],"range":["#8c8a00","#0f8b8d","#8b0a8b"]},"legend":{"orient":"none","legendX":18.5,"legendY":263.5,"title":null,"labelOffset":28.5,"rowPadding":4.5,"symbolSize":100,"symbolStrokeWidth":2.5,"labelFontSize":25,"fillColor":"white","padding":1}}}}
    ],
    "resolve":{"scale":{"color":"independent","shape":"independent","fill":"independent","stroke":"independent"}}
   },
   {"data":{"name":"limits"},"mark":{"type":"rule","strokeDash":[7,4],"strokeWidth":3},
    "encoding":{
     "x":{"field":"x","type":"quantitative","scale":{"domain":[0,0.65],"nice":false,"zero":false},"axis":{"title":"Initial crack width (mm)","values":[0,0.05,0.1,0.15,0.2,0.25,0.3,0.35,0.4,0.45,0.5,0.55,0.6],"labelExpr":"round(datum.value*100) % 10 == 0 ? format(datum.value, '.1f') : ''","tickSize":{"condition":{"test":"round(datum.value*100) % 10 != 0","value":4},"value":7},"labelPadding":10,"titlePadding":18,"labelOverlap":false,"labelFlush":false}},
     "color":{"field":"s","type":"nominal","scale":{"domain":["Plain mortar","Abiotic mortar","Biomortar"],"range":["#8c8a00","#0f8b8d","#8b0a8b"]},"legend":null}}}
  ],
  "resolve":{"scale":{"color":"independent","shape":"independent","fill":"independent","stroke":"independent"}}
 }
],"spacing":10,
"resolve":{"scale":{"color":"independent","shape":"independent","fill":"independent","stroke":"independent"},"legend":{"color":"independent","shape":"independent","fill":"independent","stroke":"independent"}}}
]
}
